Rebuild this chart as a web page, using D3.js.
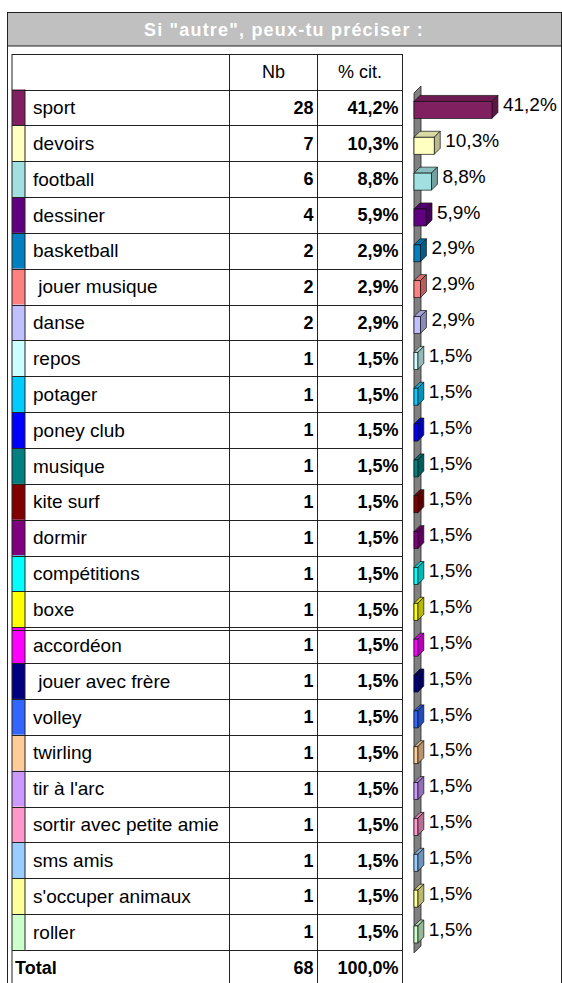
<!DOCTYPE html>
<html>

<head>
    <meta charset="utf-8">
    <script src="https://d3js.org/d3.v7.min.js"></script>
    <style>
        body { margin: 0; background: #fff; }
        text { font-family: "Liberation Sans", Arial, sans-serif; }
    </style>
</head>

<body>
    <script>
        // données du tableau
        const categories = [
            'sport', 'devoirs', 'football', 'dessiner', 'basketball', ' jouer musique', 'danse',
            'repos', 'potager', 'poney club', 'musique', 'kite surf', 'dormir', 'compétitions',
            'boxe', 'accordéon', ' jouer avec frère', 'volley', 'twirling', "tir à l'arc",
            'sortir avec petite amie', 'sms amis', "s'occuper animaux", 'roller'
        ];
        const counts = [28, 7, 6, 4, 2, 2, 2, 1, 1, 1, 1, 1, 1, 1, 1, 1, 1, 1, 1, 1, 1, 1, 1, 1];
        const percents = [41.2, 10.3, 8.8, 5.9, 2.9, 2.9, 2.9, 1.5, 1.5, 1.5, 1.5, 1.5, 1.5, 1.5,
            1.5, 1.5, 1.5, 1.5, 1.5, 1.5, 1.5, 1.5, 1.5, 1.5];
        const colors = [
            '#802060', '#FFFFC0', '#A0E0E0', '#600080', '#0080C0', '#FF8080', '#C0C0FF',
            '#CCFFFF', '#00CCFF', '#0000FF', '#008080', '#800000', '#800080', '#00FFFF',
            '#FFFF00', '#FF00FF', '#000080', '#3366FF', '#FFCC99', '#CC99FF',
            '#FF99CC', '#99CCFF', '#FFFF99', '#CCFFCC'
        ];
        const headers = ['Nb', '% cit.'];
        const totalLabel = 'Total';
        const totalCount = 68;
        const totalPercent = 100.0;
        const title = 'Si "autre", peux-tu préciser :';

        const width = 562, height = 983;
        const fmt = v => d3.format('.1f')(v).replace('.', ',') + '%';

        const svg = d3.select('body').append('svg')
            .attr('width', width)
            .attr('height', height);

        // colonnes du tableau
        const colL = 12, colSw = 25, colNb = 229.5, colPct = 317.5, colR = 402.5;
        const tableTop = 54.5, headBottom = 89.5, rowH = 35.85;

        const y = d3.scaleBand()
            .domain(d3.range(categories.length))
            .range([headBottom, headBottom + rowH * categories.length]);
        const rowsBottom = y.range()[1];
        const totalBottom = rowsBottom + rowH;

        // cadre + bandeau du titre
        svg.append('rect')
            .attr('x', 7.5).attr('y', 12.5)
            .attr('width', 554).attr('height', 1000)
            .attr('fill', '#fff').attr('stroke', '#222');
        svg.append('rect')
            .attr('x', 7.5).attr('y', 12.5)
            .attr('width', 554).attr('height', 33.5)
            .attr('fill', '#C0C0C0').attr('stroke', '#222');
        svg.append('text')
            .attr('x', 284).attr('y', 30)
            .attr('dy', '0.35em')
            .attr('text-anchor', 'middle')
            .attr('fill', '#fff')
            .style('font-size', '18px')
            .style('font-weight', 'bold')
            .style('letter-spacing', '1.2px')
            .text(title);

        // pastilles de couleur
        svg.selectAll('rect.sw')
            .data(categories)
            .enter().append('rect')
            .attr('class', 'sw')
            .attr('x', colL).attr('y', (d, i) => y(i))
            .attr('width', colSw - colL).attr('height', y.bandwidth())
            .attr('fill', (d, i) => colors[i]);

        // lignes du tableau
        const g = svg.append('g').attr('stroke', '#222').attr('fill', 'none');
        g.append('rect')
            .attr('x', colL).attr('y', tableTop)
            .attr('width', colR - colL).attr('height', 1000);
        [colNb, colPct].forEach(x => g.append('line')
            .attr('x1', x).attr('x2', x).attr('y1', tableTop).attr('y2', height));
        g.append('line')
            .attr('x1', colSw).attr('x2', colSw).attr('y1', headBottom).attr('y2', rowsBottom);
        g.selectAll('line.row')
            .data(d3.range(categories.length + 1))
            .enter().append('line')
            .attr('x1', colL).attr('x2', colR)
            .attr('y1', i => Math.round(headBottom + i * rowH) + 0.5)
            .attr('y2', i => Math.round(headBottom + i * rowH) + 0.5);
        // double trait (saut de page)
        g.append('line')
            .attr('x1', colL).attr('x2', colR)
            .attr('y1', Math.round(y(15)) + 3.5).attr('y2', Math.round(y(15)) + 3.5);

        // en-têtes
        svg.selectAll('text.head')
            .data(headers)
            .enter().append('text')
            .attr('x', (d, i) => i === 0 ? (colNb + colPct) / 2 : (colPct + colR) / 2)
            .attr('y', (tableTop + headBottom) / 2)
            .attr('dy', '0.35em')
            .attr('text-anchor', 'middle')
            .style('font-size', '18px')
            .text(d => d);

        const mid = i => y(i) + y.bandwidth() / 2;

        // libellés
        svg.selectAll('text.lab')
            .data(categories)
            .enter().append('text')
            .attr('x', 33).attr('y', (d, i) => mid(i))
            .attr('dy', '0.35em')
            .style('font-size', '19px')
            .style('white-space', 'pre')
            .attr('xml:space', 'preserve')
            .text(d => d);

        svg.selectAll('text.nb')
            .data(counts)
            .enter().append('text')
            .attr('x', colPct - 4).attr('y', (d, i) => mid(i))
            .attr('dy', '0.35em')
            .attr('text-anchor', 'end')
            .style('font-size', '18px').style('font-weight', 'bold')
            .text(d => d);

        svg.selectAll('text.pct')
            .data(percents)
            .enter().append('text')
            .attr('x', colR - 4).attr('y', (d, i) => mid(i))
            .attr('dy', '0.35em')
            .attr('text-anchor', 'end')
            .style('font-size', '18px').style('font-weight', 'bold')
            .text(d => fmt(d));

        // ligne Total
        const ty = (rowsBottom + totalBottom) / 2;
        svg.append('text').attr('x', 15).attr('y', ty).attr('dy', '0.35em')
            .style('font-size', '18px').style('font-weight', 'bold').text(totalLabel);
        svg.append('text').attr('x', colPct - 4).attr('y', ty).attr('dy', '0.35em')
            .attr('text-anchor', 'end')
            .style('font-size', '18px').style('font-weight', 'bold').text(totalCount);
        svg.append('text').attr('x', colR - 4).attr('y', ty).attr('dy', '0.35em')
            .attr('text-anchor', 'end')
            .style('font-size', '18px').style('font-weight', 'bold').text(fmt(totalPercent));

        // graphique en barres 3D
        const x0 = 414, dx = 6, dy = 6;
        const xScale = d3.scaleLinear()
            .domain([0, 45])
            .range([415, 499]);

        // paroi grise
        const wTop = headBottom + 3.5, wBot = rowsBottom + 3;
        svg.append('path')
            .attr('d', `M${x0},${wTop} L${x0 + 7},${wTop - 7} L${x0 + 7},${wBot - 7} L${x0},${wBot} Z`)
            .attr('fill', '#808080').attr('stroke', '#222').attr('stroke-width', 0.8);

        const bars = svg.selectAll('g.bar')
            .data(percents)
            .enter().append('g')
            .attr('class', 'bar');

        const fTop = i => mid(i) - 6;
        const fH = 17;
        // face du dessus
        bars.append('path')
            .attr('d', (d, i) => {
                const x1 = xScale(d), t = fTop(i);
                return `M${x0},${t} L${x0 + dx},${t - dy} L${x1 + dx},${t - dy} L${x1},${t} Z`;
            })
            .attr('fill', (d, i) => d3.color(colors[i]).darker(0.45))
            .attr('stroke', '#111').attr('stroke-width', 0.7);
        // face de droite
        bars.append('path')
            .attr('d', (d, i) => {
                const x1 = xScale(d), t = fTop(i);
                return `M${x1},${t} L${x1 + dx},${t - dy} L${x1 + dx},${t + fH - dy} L${x1},${t + fH} Z`;
            })
            .attr('fill', (d, i) => d3.color(colors[i]).darker(0.9))
            .attr('stroke', '#111').attr('stroke-width', 0.7);
        // face avant
        bars.append('rect')
            .attr('x', x0).attr('y', (d, i) => fTop(i))
            .attr('width', d => xScale(d) - x0).attr('height', fH)
            .attr('fill', (d, i) => colors[i])
            .attr('stroke', '#111').attr('stroke-width', 0.7);

        // étiquettes des barres
        svg.selectAll('text.val')
            .data(percents)
            .enter().append('text')
            .attr('x', d => xScale(d) + dx + 5)
            .attr('y', (d, i) => mid(i) - 3)
            .attr('dy', '0.35em')
            .style('font-size', '19px')
            .text(d => fmt(d));
    </script>
</body>

</html>
